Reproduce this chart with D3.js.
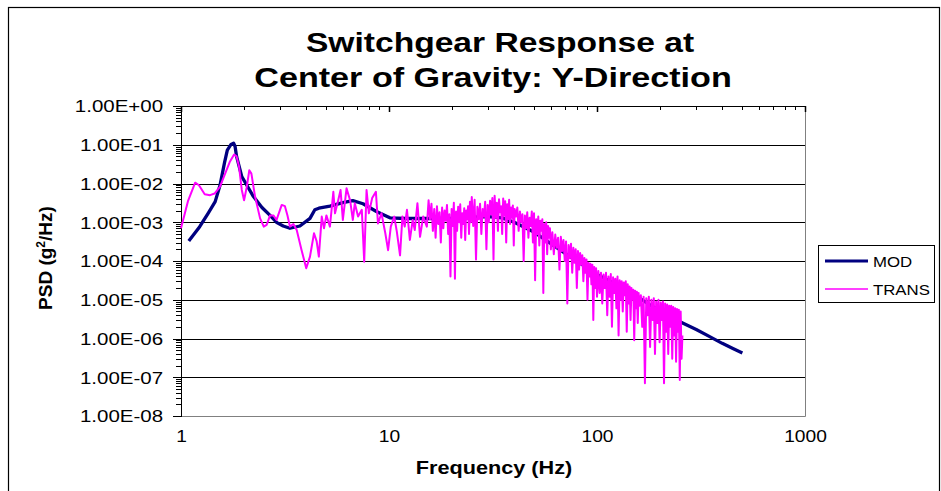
<!DOCTYPE html>
<html>
<head>
<meta charset="utf-8">
<script src="https://cdn.jsdelivr.net/npm/d3@7"></script>
<style>
body { margin: 0; background: #fff; }
svg { display: block; font-family: "Liberation Sans", Arial, sans-serif; }
</style>
</head>
<body>
<div id="chart"></div>
<script>
// axis ticks
const xTicks = [1, 10, 100, 1000];
const xTickLabels = ['1', '10', '100', '1000'];
const yTicks = [1, 1e-1, 1e-2, 1e-3, 1e-4, 1e-5, 1e-6, 1e-7, 1e-8];
const yTickLabels = ['1.00E+00', '1.00E-01', '1.00E-02', '1.00E-03', '1.00E-04',
                     '1.00E-05', '1.00E-06', '1.00E-07', '1.00E-08'];

// MOD series (frequency Hz, PSD g^2/Hz)
const modFreq = [1.09, 1.23, 1.35, 1.46, 1.54, 1.62, 1.67, 1.74, 1.79, 1.82, 1.85, 1.96, 2.1, 2.23,
  2.45, 2.68, 2.89, 3.1, 3.34, 3.73, 4.17, 4.4, 4.6, 5.2, 6.0, 6.7, 7.5, 8.7, 10.1, 12, 15, 20, 25,
  30, 35, 40, 50, 60, 70, 80, 100, 125, 150, 175, 200, 225, 258, 300, 350, 400, 450, 500];
const modPsd = [3.3e-4, 7.7e-4, 1.7e-3, 3.4e-3, 9e-3, 3.5e-2, 7.3e-2, 1.02e-1, 1.1e-1, 9e-2, 5e-2,
  1.5e-2, 8e-3, 4.6e-3, 2.4e-3, 1.5e-3, 9.8e-4, 8e-4, 7e-4, 8e-4, 1.26e-3, 2.1e-3, 2.3e-3, 2.6e-3,
  3.2e-3, 3.6e-3, 3.0e-3, 1.9e-3, 1.3e-3, 1.25e-3, 1.25e-3, 1.25e-3, 1.35e-3, 1.4e-3, 1.3e-3,
  1.0e-3, 5.5e-4, 2.8e-4, 1.6e-4, 1.0e-4, 4.5e-5, 2.4e-5, 1.4e-5, 8e-6, 5.2e-6, 3.6e-6, 2.5e-6,
  1.7e-6, 1.1e-6, 7.5e-7, 5.5e-7, 4.2e-7];

// TRANS series, low frequency part
const transLowFreq = [1.00, 1.08, 1.17, 1.22, 1.30, 1.38, 1.45, 1.54, 1.63, 1.72, 1.80, 1.85, 1.90,
  1.96, 2.01, 2.07, 2.13, 2.18, 2.27, 2.40, 2.50, 2.58, 2.68, 2.78, 2.88, 3.05, 3.16, 3.25, 3.34,
  3.47, 3.60, 3.80, 4.00, 4.17, 4.36, 4.49, 4.60, 4.75, 4.87, 5.00, 5.20, 5.40, 5.50, 5.70, 5.85,
  6.00, 6.25, 6.50, 6.70, 6.85, 7.10, 7.40, 7.60, 7.80, 8.00, 8.30, 8.65, 8.85, 9.20, 9.60, 9.90,
  10.2, 10.6, 10.9, 11.3, 11.6, 11.9, 12.2, 12.6, 13.0, 13.3, 13.7, 14.1, 14.6, 15.2, 15.5];
const transLowPsd = [7e-4, 3.5e-3, 1.05e-2, 9e-3, 5.3e-3, 5.0e-3, 5.5e-3, 8.3e-3, 1.8e-2, 3.7e-2,
  5.6e-2, 5e-2, 2.8e-2, 6.8e-3, 3.7e-3, 8e-3, 2.2e-2, 1.8e-2, 4.6e-3, 1.26e-3, 7.7e-4, 8.5e-4,
  1.5e-3, 1.5e-3, 1.15e-3, 2.8e-3, 2.6e-3, 1.5e-3, 7.7e-4, 9e-4, 6.3e-4, 1.9e-4, 6.5e-5, 1.3e-4,
  5.2e-4, 3.2e-4, 1.3e-4, 1.4e-3, 7e-4, 1.5e-3, 7.7e-4, 6.1e-3, 1.7e-3, 3.7e-3, 6.8e-3, 1.15e-3,
  7.5e-3, 3.7e-3, 1.15e-3, 3.1e-3, 1.4e-3, 2.1e-3, 9.6e-5, 6.8e-3, 1.7e-3, 4.2e-3, 6.1e-3, 9.3e-4,
  1.7e-3, 5.2e-4, 1.9e-4, 7.7e-4, 1.4e-3, 5.8e-4, 1.4e-4, 1.4e-3, 7.7e-4, 2.1e-3, 3.5e-4, 1.15e-3,
  6.3e-4, 3.1e-3, 4.2e-4, 1.4e-3, 7.7e-4, 3.7e-3];

// TRANS series, noisy part: bands on regular frequency bins
const bandStart = [15.75, 25.4, 40.8, 61, 101.5, 162.5];
const bandStep = [0.25, 0.4, 0.6, 1, 1.5, 2.5];
const bandA = [1.2e-3, 3.0e-3, 6e-4, 2.2e-3, 4e-4, 2.6e-3, 9e-4, 1.8e-3, 3e-4, 2.4e-3, 7e-4, 2.0e-3,
  1.1e-3, 2.8e-3, 5e-4, 1.6e-3, 4e-5, 2.2e-3, 8e-4, 3.2e-3, 3.5e-5, 1.9e-3, 6e-4, 2.5e-3, 1.0e-3,
  2.9e-3, 4e-4, 1.7e-3, 9e-4, 2.3e-3, 3.5e-4, 2.0e-3, 1.2e-3, 2.6e-3, 5e-4, 3.4e-3, 1.0e-3, 4.5e-3];
const bandB = [8e-4, 3.8e-3, 1.1e-4, 2.5e-3, 1.2e-3, 3.0e-3, 5e-4, 2.2e-3, 1.4e-3, 3.4e-3, 2e-4,
  2.8e-3, 1.0e-3, 3.6e-3, 1.6e-3, 4.2e-3, 1.1e-4, 4.8e-3, 1.3e-3, 3.2e-3, 6e-4, 3.9e-3, 1.8e-3,
  2.6e-3, 5e-4, 4.1e-3, 1.5e-3, 3.5e-3, 3e-4, 2.9e-3, 1.2e-3, 3.8e-3, 9e-4, 2.4e-3, 1.3e-3, 2.7e-3,
  2.5e-4, 2.2e-3];
const bandC = [1.4e-3, 2.4e-3, 6e-4, 1.9e-3, 1.0e-3, 1.6e-3, 1e-4, 1.5e-3, 7e-4, 1.8e-3, 4e-4,
  1.3e-3, 8e-4, 1.9e-3, 3e-4, 1.7e-3, 3.2e-5, 1.2e-3, 5e-4, 1.4e-3, 2.5e-4, 1.1e-3, 6e-4, 1.2e-3,
  1.5e-5, 9e-4, 3e-4, 1.0e-3, 1.5e-4, 8e-4, 4e-4, 7e-4, 2e-4];
const bandD = [5.5e-4, 1.5e-4, 4.8e-4, 2.2e-4, 4.0e-4, 6e-5, 4.2e-4, 1.8e-4, 3.5e-4, 1e-4, 3.2e-4,
  8e-6, 2.6e-4, 1.2e-4, 2.8e-4, 5e-5, 2.2e-4, 9e-5, 2.0e-4, 2e-5, 1.8e-4, 6e-5, 1.6e-4, 8e-5,
  1.4e-4, 3e-5, 1.2e-4, 5e-5, 1.1e-4, 1e-5, 9e-5, 4e-5, 8.5e-5, 2.5e-5, 8e-5, 3e-6, 7e-5, 2e-5,
  6.5e-5, 1.2e-5];
const bandE = [5.5e-5, 1.5e-5, 5e-5, 8e-6, 4.5e-5, 2e-5, 5e-5, 4e-6, 4e-5, 1.2e-5, 4.6e-5, 2e-6,
  3.8e-5, 1.5e-5, 3.5e-5, 6e-6, 4e-5, 1.2e-6, 3.2e-5, 1e-5, 3e-5, 5e-6, 2.8e-5, 1.3e-5, 3e-5,
  1.5e-6, 2.5e-5, 8e-6, 2.2e-5, 3e-6, 2e-5, 1e-5, 1.8e-5, 9e-7, 1.7e-5, 6e-6, 1.6e-5, 2.5e-6,
  1.5e-5, 7e-6];
const bandF = [1.3e-5, 2e-6, 1.2e-5, 7e-8, 1.1e-5, 4e-6, 1.2e-5, 6e-7, 1.0e-5, 3e-6, 1.1e-5, 4e-7,
  9e-6, 2.5e-6, 1.0e-5, 8e-7, 8.5e-6, 3e-6, 9e-6, 7e-8, 8e-6, 1.5e-6, 7.5e-6, 4e-7, 7e-6, 2e-6,
  7e-6, 3e-7, 6.5e-6, 1.2e-6, 6e-6, 2.5e-7, 5.8e-6, 1.5e-6, 5.5e-6, 8.5e-8, 5e-6, 3e-7, 1.2e-6];
const bands = [bandA, bandB, bandC, bandD, bandE, bandF];

const seriesNames = ['MOD', 'TRANS'];
const seriesColors = ['#000080', '#ff00ff'];

const modPts = modFreq.map((f, i) => [f, modPsd[i]]);
const transPts = transLowFreq.map((f, i) => [f, transLowPsd[i]]);
bands.forEach((b, k) => {
  b.forEach((v, i) => transPts.push([bandStart[k] + i * bandStep[k], v]));
});

const W = 941, H = 491;
const box = {l: 181, r: 805, t: 106, b: 416};

const svg = d3.select('#chart').append('svg')
  .attr('width', W).attr('height', H);

// chart border
svg.append('rect')
  .attr('x', 8.5).attr('y', 7.5).attr('width', 931).attr('height', 500)
  .attr('fill', '#fff').attr('stroke', '#000').attr('stroke-width', 1.2);

const x = d3.scaleLog().domain([1, 1000]).range([box.l, box.r]);
const y = d3.scaleLog().domain([1e-8, 1]).range([box.b, box.t]);

function stext(g, txt, tx, ty, size, sx, anchor, weight) {
  return g.append('text')
    .attr('transform', `translate(${tx},${ty}) scale(${sx},1)`)
    .attr('text-anchor', anchor)
    .attr('font-size', size)
    .attr('font-weight', weight || 'normal')
    .attr('fill', '#000')
    .text(txt);
}

// gridlines
svg.append('g')
  .attr('transform', `translate(${box.l},0)`)
  .call(d3.axisLeft(y).tickValues(yTicks.slice(1, -1)).tickSize(-(box.r - box.l)).tickFormat(''))
  .call(g => g.select('.domain').remove())
  .call(g => g.selectAll('line').attr('stroke', '#000').attr('shape-rendering', 'crispEdges'));

// right and bottom plot border (grey)
svg.append('path')
  .attr('d', `M${box.l},${box.b + 0.5}H${box.r + 0.5}V${box.t}`)
  .attr('fill', 'none').attr('stroke', '#808080');

// y minor ticks
svg.append('g')
  .attr('transform', `translate(${box.l},0)`)
  .call(d3.axisLeft(y).tickValues(y.ticks()).tickSize(5).tickFormat(''))
  .call(g => g.selectAll('line,path').attr('stroke', '#000').attr('shape-rendering', 'crispEdges'));

// y major ticks + labels
const yAx = svg.append('g')
  .attr('transform', `translate(${box.l},0)`)
  .call(d3.axisLeft(y).tickValues(yTicks).tickSize(8)
    .tickFormat((d, i) => yTickLabels[i]))
  .call(g => g.select('.domain').attr('stroke', '#000'))
  .call(g => g.selectAll('line').attr('stroke', '#000').attr('shape-rendering', 'crispEdges'));
yAx.selectAll('text')
  .attr('x', -18 / 1.28).attr('dy', '0.36em')
  .attr('transform', 'scale(1.28,1)')
  .attr('font-size', 16).attr('fill', '#000');

// x axis at top (crosses at 1.00E+00), ticks pointing down
svg.append('g')
  .attr('transform', `translate(0,${box.t})`)
  .call(d3.axisBottom(x).tickValues(x.ticks()).tickSize(4).tickFormat(''))
  .call(g => g.selectAll('line,path').attr('stroke', '#000').attr('shape-rendering', 'crispEdges'));
svg.append('g')
  .attr('transform', `translate(0,${box.t})`)
  .call(d3.axisBottom(x).tickValues(xTicks).tickSize(6).tickFormat(''))
  .call(g => g.select('.domain').remove())
  .call(g => g.selectAll('line').attr('stroke', '#000').attr('stroke-width', 1.5));

// x labels at bottom
const xAx = svg.append('g')
  .attr('transform', `translate(0,${box.b})`)
  .call(d3.axisBottom(x).tickValues(xTicks).tickSize(0).tickPadding(15)
    .tickFormat((d, i) => xTickLabels[i]))
  .call(g => g.select('.domain').remove());
xAx.selectAll('text')
  .attr('font-size', 16).attr('fill', '#000')
  .attr('transform', 'scale(1.2,1)');

// series
const line = d3.line().x(d => x(d[0])).y(d => y(d[1]));
const plot = svg.append('g');
plot.append('path').datum(modPts)
  .attr('d', line).attr('fill', 'none')
  .attr('stroke', seriesColors[0]).attr('stroke-width', 3.3).attr('stroke-linejoin', 'round');
plot.append('path').datum(transPts)
  .attr('d', line).attr('fill', 'none')
  .attr('stroke', seriesColors[1]).attr('stroke-width', 2).attr('stroke-linejoin', 'round');

// titles
stext(svg, 'Switchgear Response at', 500, 52, 28, 1.2, 'middle', 'bold');
stext(svg, 'Center of Gravity: Y-Direction', 493, 87, 28, 1.22, 'middle', 'bold');
stext(svg, 'Frequency (Hz)', 494, 474, 19, 1.14, 'middle', 'bold');

const yt = svg.append('text')
  .attr('transform', 'translate(52,258) rotate(-90)')
  .attr('text-anchor', 'middle').attr('font-size', 19).attr('font-weight', 'bold');
yt.append('tspan').text('PSD (g');
yt.append('tspan').attr('font-size', 12).attr('dy', -7).text('2');
yt.append('tspan').attr('dy', 7).text('/Hz)');

// legend
const lg = svg.append('g');
lg.append('rect')
  .attr('x', 818.5).attr('y', 245.5).attr('width', 116).attr('height', 57)
  .attr('fill', '#fff').attr('stroke', '#000');
seriesNames.forEach((name, i) => {
  const ly = 261 + i * 28;
  lg.append('line')
    .attr('x1', 825).attr('x2', 868).attr('y1', ly).attr('y2', ly)
    .attr('stroke', seriesColors[i]).attr('stroke-width', i === 0 ? 3 : 1.5);
  stext(lg, name, 873, ly + 5.5, 15, 1.12, 'start');
});
</script>
</body>
</html>
